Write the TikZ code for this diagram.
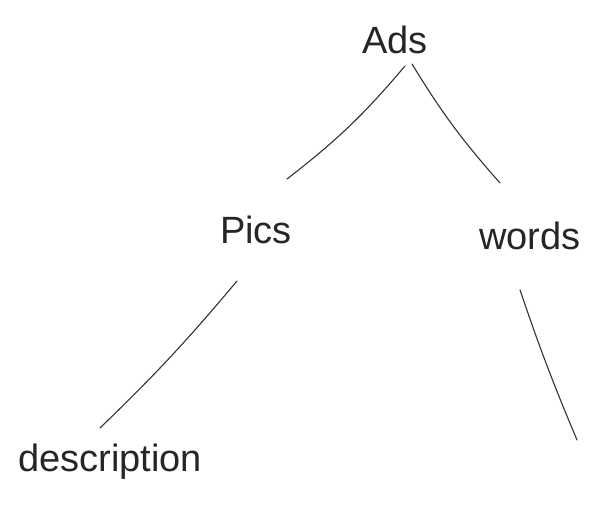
\documentclass[tikz,border=0pt]{standalone}
\usepackage{fontspec}
\setmainfont{Liberation Sans}
\begin{document}
\begin{tikzpicture}[x=1pt,y=-1pt,
  word/.style={font=\fontsize{38}{40}\selectfont, inner sep=0pt, text=black!85},
  branch/.style={draw=black!80, line width=1.1pt, line cap=round}]
  \useasboundingbox[fill=white] (0,0) rectangle (597,510);
  % tree labels
  \node[word] (ads)   at (395,40)  {Ads};
  \node[word] (pics)  at (256,230) {Pics};
  \node[word] (words) at (530,236) {words};
  \node[word] (desc)  at (110,462) {description};
  % branch end points, kept clear of the labels
  \coordinate (adsL)   at (405,66);
  \coordinate (adsR)   at (412,64);
  \coordinate (picsT)  at (287,179);
  \coordinate (wordsT) at (500,183);
  \coordinate (picsB)  at (237,281);
  \coordinate (descT)  at (100,428);
  \coordinate (wordsB) at (520,290);
  \coordinate (leaf)   at (577,440);
  % branches
  \draw[branch] (adsL) to[bend left=6] (picsT);
  \draw[branch] (adsR) to[bend right=5] (wordsT);
  \draw[branch] (picsB) to[bend left=3] (descT);
  \draw[branch] (wordsB) to[bend right=2] (leaf);
\end{tikzpicture}
\end{document}
